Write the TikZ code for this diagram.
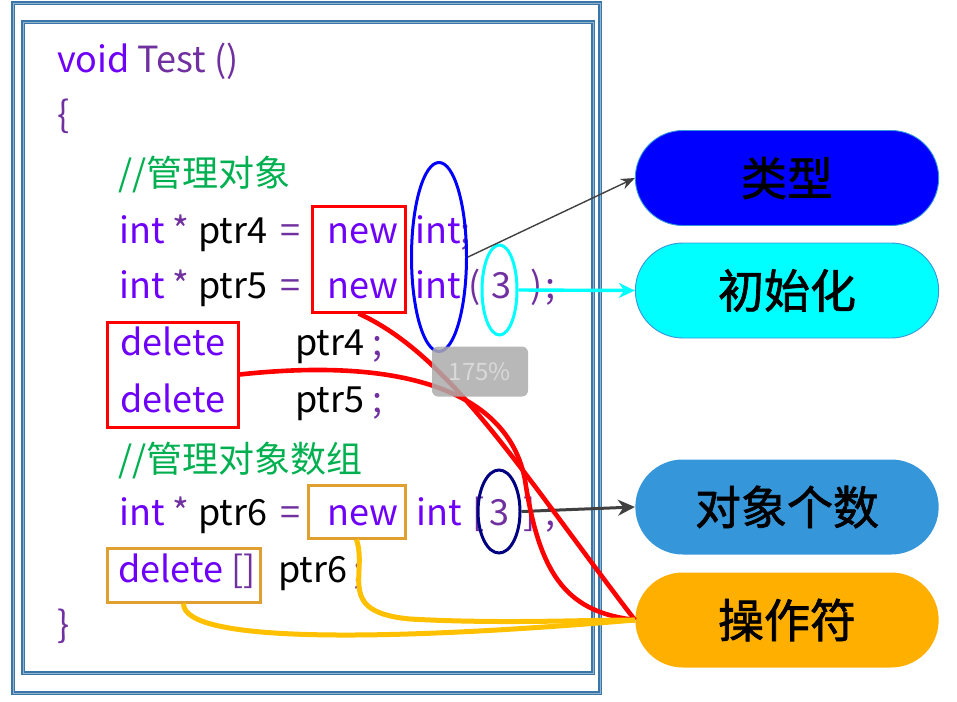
\documentclass[tikz,border=0pt]{standalone}
\usepackage{fontspec}
\setmainfont{Noto Sans CJK SC}
\newfontfamily\pillcjk[FakeBold=1.5]{Noto Sans CJK SC}
\usetikzlibrary{arrows.meta,positioning,shapes.geometric,shapes.misc}
\definecolor{frameblue}{HTML}{3A76A8}
\definecolor{kw}{HTML}{6E00FA}
\definecolor{pur}{HTML}{7030A0}
\definecolor{cmt}{HTML}{00B050}
\definecolor{hotred}{HTML}{FF0000}
\definecolor{gold}{HTML}{FFC000}
\definecolor{goldbox}{HTML}{E0A030}
\definecolor{pureblue}{HTML}{0000FF}
\definecolor{aqua}{HTML}{00FFFF}
\definecolor{sky}{HTML}{3597DA}
\definecolor{amber}{HTML}{FFAF00}
\definecolor{navyink}{HTML}{000080}
\definecolor{ink}{HTML}{404040}
\newcommand{\codefont}{\fontsize{36}{40}\selectfont}
\newcommand{\pillfont}{\pillcjk\fontsize{46}{50}\selectfont}

\begin{document}
\begin{tikzpicture}[
  x=1pt, y=-1pt, >=Stealth,
  frameLine/.style={draw=frameblue, line width=1.9pt, double=frameblue!55, double distance=0.9pt},
  code/.style={font=\codefont, anchor=base west, inner sep=0pt},
  kwd/.style={code, text=kw},
  sym/.style={code, text=pur},
  redBox/.style={draw=hotred, line width=3pt, inner sep=0pt},
  goldBox/.style={draw=goldbox, line width=3pt, inner sep=0pt},
  ring/.style={ellipse, line width=3pt, inner sep=0pt},
  pill/.style={rounded rectangle, minimum width=310pt, minimum height=95pt, font=\pillfont, text=black, line width=0.9pt},
  redLink/.style={draw=hotred, line width=4.6pt},
  goldLink/.style={draw=gold, line width=5pt},
  zoomTag/.style={fill=gray!65, fill opacity=0.85, text opacity=1, text=gray!30, rounded corners=6pt, minimum width=96pt, minimum height=50pt, font=\fontsize{24}{26}\selectfont},
]
\useasboundingbox (0,0) rectangle (957,701);

\draw[frameLine] (13,3) rectangle (600,693);
\draw[frameLine] (23,22) rectangle (593,673);

\node[code] (sig) at (57,72) {\textcolor{kw}{void} \textcolor{pur}{Test ()}};
\node[sym] (open) at (57,127) {\{};
\node[code, text=cmt] (c1) at (118,186) {//管理对象};

\node[kwd] (i4) at (119,243) {int};
\node[sym] (st4) at (172,243) {*};
\node[code] (p4) at (198,243) {ptr4};
\node[sym] (eq4) at (280,243) {=};
\node[kwd] (n4) at (327,243) {new};
\node[kwd] (t4) at (415,243) {int\textcolor{pur}{;}};

\node[kwd] (i5) at (119,298) {int};
\node[sym] (st5) at (172,298) {*};
\node[code] (p5) at (198,298) {ptr5};
\node[sym] (eq5) at (280,298) {=};
\node[kwd] (n5) at (327,298) {new};
\node[kwd] (t5) at (415,298) {int};
\node[sym] (lp5) at (468,298) {(};
\node[sym] (v5) at (491,298) {3};
\node[sym] (rp5) at (530,298) {)};
\node[sym] (sc5) at (545,298) {;};

\node[kwd] (d4) at (120,355) {delete};
\node[code] (q4) at (295,355) {ptr4 \textcolor{pur}{;}};
\node[kwd] (d5) at (120,412) {delete};
\node[code] (q5) at (295,412) {ptr5 \textcolor{pur}{;}};

\node[code, text=cmt] (c2) at (118,472) {//管理对象数组};

\node[kwd] (i6) at (119,525) {int};
\node[sym] (st6) at (172,525) {*};
\node[code] (p6) at (198,525) {ptr6};
\node[sym] (eq6) at (280,525) {=};
\node[kwd] (n6) at (327,525) {new};
\node[kwd] (t6) at (416,525) {int};
\node[sym] (lb6) at (472,525) {[};
\node[sym] (v6) at (489,525) {3};
\node[sym] (rb6) at (523,525) {]};
\node[sym] (sc6) at (545,525) {;};

\node[kwd] (d6) at (118,582) {delete};
\node[sym] (br6) at (231,582) {[]};
\node[code] (q6) at (278,582) {ptr6};
\node[sym] (sc7) at (353,582) {;};

\node[sym] (close) at (57,637) {\}};

\node[redBox, minimum width=93pt, minimum height=106pt] (newBox) at (358.5,259) {};
\node[redBox, minimum width=131pt, minimum height=105pt] (delBox) at (172.5,374.5) {};
\node[goldBox, minimum width=97pt, minimum height=53pt] (newArr) at (356.5,511.5) {};
\node[goldBox, minimum width=153pt, minimum height=54pt] (delArr) at (183.5,575) {};

\node[ring, draw=pureblue, minimum width=55pt, minimum height=189pt] (typeEll) at (439,257) {};
\node[ring, draw=aqua, minimum width=35pt, minimum height=90pt] (initEll) at (499.5,290) {};
\node[ring, draw=navyink, minimum width=42pt, minimum height=83pt] (cntEll) at (499,511.5) {};

\node[pill, fill=pureblue, draw=sky] (typeP) at (787,178) {类型};
\node[pill, fill=aqua, draw=sky] (initP) at (787,290.5) {初始化};
\node[pill, fill=sky] (countP) at (787,507) {对象个数};
\node[pill, fill=amber] (opP) at (787,620) {操作符};

\draw[->, ink, line width=1.4pt, >={Stealth[length=14pt,width=11pt]}] (typeEll.east) -- (typeP.west);
\draw[->, aqua, line width=3.4pt, >={Stealth[length=16pt,width=15pt]}] (initEll.east) -- (initP.west);
\draw[->, ink, line width=3pt, >={Stealth[length=17pt,width=16pt]}] (cntEll.east) -- (countP.west);

\draw[redLink] (newBox.south) .. controls (450,355) and (520,470) .. (opP.west);
\draw[redLink] (delBox.east) .. controls (420,355) and (510,400) .. (525,480)
  .. controls (540,580) and (570,612) .. (opP.west);

\draw[goldLink] (newArr.south) .. controls (368,575) and (335,612) .. (410,619)
  .. controls (500,624) and (580,620) .. (opP.west);
\draw[goldLink] (delArr.south) .. controls (183,645) and (400,640) .. (opP.west);

\node[zoomTag] (zoom) at (480,371.5) {175\%};
\end{tikzpicture}
\end{document}
